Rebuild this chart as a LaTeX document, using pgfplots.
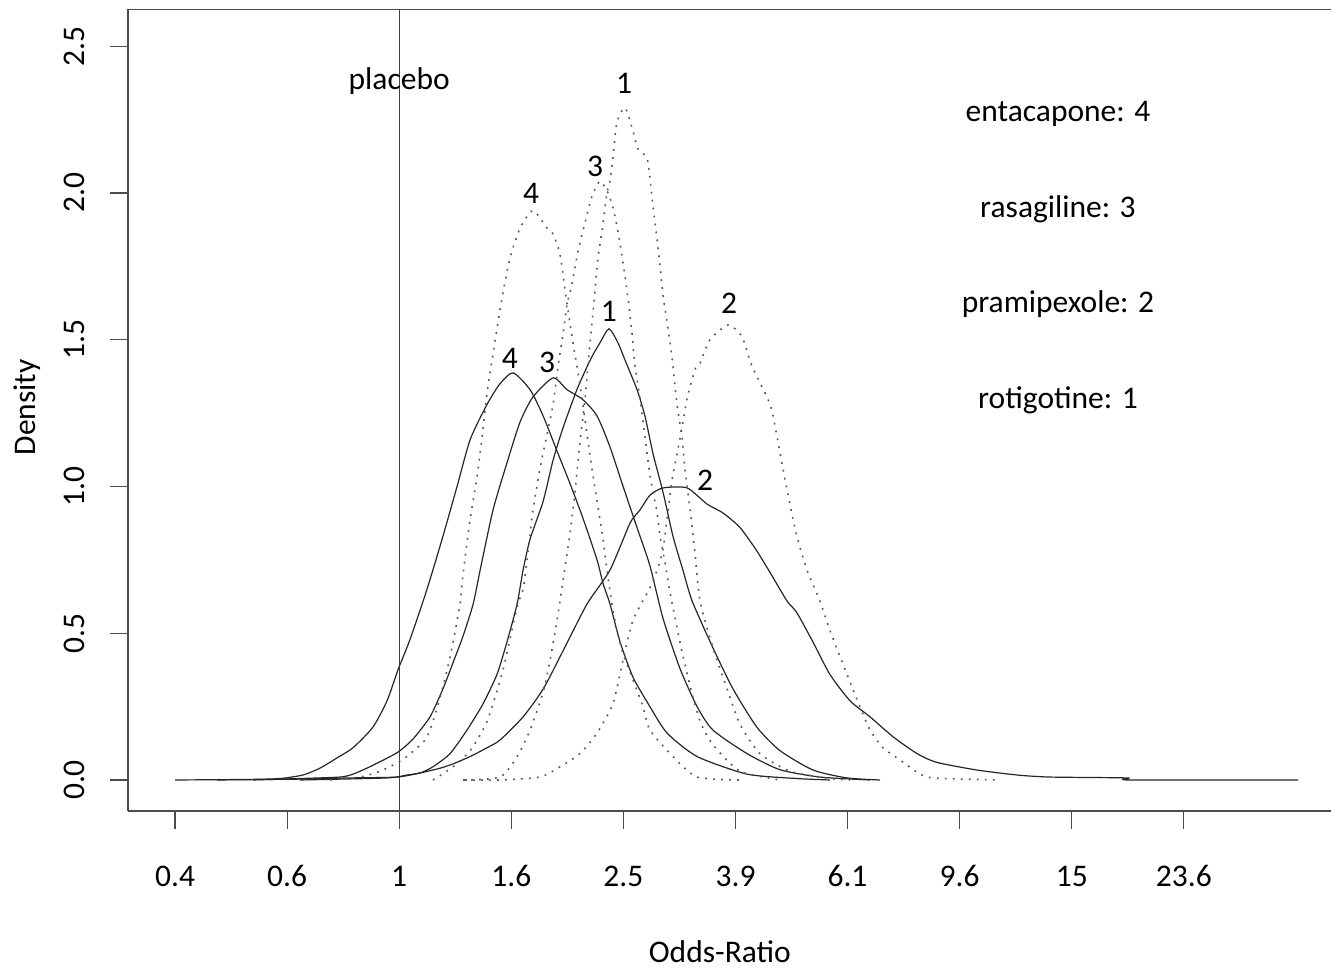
\documentclass[border=0pt]{standalone}
\usepackage{fontspec}
\setmainfont{Carlito}
\usepackage{pgfplots}
\pgfplotsset{compat=1.18}
\newcommand\rfont{\fontsize{31.5}{38}\selectfont}

% x = ln(odds ratio), y = posterior density
\pgfplotstableread{
x y
-0.903 0.000
-0.601 0.002
-0.480 0.005
-0.388 0.017
-0.320 0.040
-0.251 0.075
-0.186 0.110
-0.106 0.180
-0.049 0.270
-0.005 0.375
0.044 0.480
0.112 0.650
0.176 0.830
0.233 1.000
0.286 1.160
0.354 1.280
0.406 1.350
0.459 1.387
0.527 1.330
0.580 1.240
0.636 1.120
0.688 1.010
0.741 0.890
0.797 0.750
0.821 0.670
0.849 0.600
0.890 0.470
0.942 0.350
1.010 0.250
1.079 0.160
1.200 0.080
1.401 0.020
1.602 0.005
1.735 0.000
}\entsolid
\pgfplotstableread{
x y
-0.590 0.000
-0.400 0.005
-0.239 0.010
-0.186 0.020
-0.106 0.050
-0.005 0.095
0.056 0.140
0.124 0.215
0.176 0.310
0.217 0.400
0.257 0.490
0.298 0.600
0.326 0.715
0.378 0.920
0.434 1.080
0.487 1.220
0.539 1.305
0.620 1.370
0.676 1.330
0.741 1.295
0.797 1.240
0.849 1.135
0.902 1.000
0.958 0.860
1.010 0.730
1.063 0.550
1.131 0.380
1.200 0.250
1.264 0.170
1.401 0.090
1.534 0.035
1.695 0.010
1.897 0.000
}\rassolid
\pgfplotstableread{
x y
-0.734 0.000
-0.400 0.003
-0.198 0.007
-0.009 0.010
0.084 0.024
0.164 0.040
0.217 0.055
0.286 0.080
0.354 0.110
0.406 0.136
0.499 0.215
0.580 0.310
0.660 0.440
0.757 0.600
0.849 0.715
0.930 0.875
0.970 0.920
1.010 0.970
1.063 0.995
1.160 0.995
1.240 0.940
1.304 0.910
1.373 0.860
1.441 0.780
1.506 0.690
1.562 0.610
1.602 0.570
1.667 0.470
1.735 0.360
1.816 0.270
1.897 0.215
1.990 0.147
2.086 0.090
2.166 0.060
2.327 0.034
2.489 0.017
2.622 0.010
2.932 0.007
2.944 0.000
3.621 0.000
}\pramsolid
\pgfplotstableread{
x y
-0.400 0.000
-0.049 0.007
0.031 0.017
0.084 0.024
0.136 0.045
0.205 0.090
0.273 0.170
0.338 0.260
0.394 0.360
0.434 0.470
0.475 0.600
0.499 0.715
0.527 0.820
0.580 0.950
0.620 1.090
0.660 1.200
0.716 1.330
0.769 1.430
0.809 1.490
0.845 1.537
0.881 1.490
0.910 1.430
0.958 1.330
0.990 1.240
1.023 1.110
1.063 0.980
1.103 0.830
1.143 0.715
1.180 0.610
1.264 0.450
1.345 0.310
1.441 0.180
1.534 0.100
1.667 0.034
1.804 0.007
1.937 0.000
}\rotsolid
\pgfplotstableread{
x y
-0.279 0.000
-0.239 0.005
-0.158 0.010
-0.077 0.030
0.015 0.070
0.104 0.136
0.136 0.200
0.164 0.280
0.193 0.375
0.217 0.470
0.245 0.600
0.257 0.700
0.286 0.890
0.313 1.030
0.334 1.170
0.354 1.320
0.374 1.430
0.394 1.540
0.418 1.660
0.447 1.780
0.487 1.880
0.539 1.940
0.596 1.880
0.620 1.860
0.648 1.790
0.668 1.670
0.680 1.600
0.700 1.490
0.716 1.410
0.733 1.320
0.753 1.200
0.773 1.080
0.797 0.950
0.821 0.820
0.837 0.715
0.857 0.600
0.877 0.510
0.902 0.430
0.942 0.340
0.982 0.250
1.010 0.170
1.103 0.080
1.200 0.010
1.373 0.000
}\entdot
\pgfplotstableread{
x y
0.136 0.000
0.217 0.045
0.286 0.100
0.354 0.200
0.418 0.375
0.475 0.590
0.499 0.650
0.515 0.750
0.539 0.920
0.567 1.060
0.596 1.180
0.620 1.280
0.640 1.410
0.660 1.520
0.676 1.620
0.696 1.690
0.720 1.800
0.749 1.900
0.777 1.990
0.809 2.040
0.841 2.000
0.861 1.950
0.881 1.870
0.902 1.760
0.922 1.640
0.938 1.520
0.950 1.410
0.970 1.300
0.990 1.170
1.010 1.040
1.039 0.910
1.051 0.830
1.071 0.740
1.091 0.640
1.131 0.470
1.172 0.320
1.212 0.200
1.264 0.120
1.373 0.030
1.534 0.000
}\rasdot
\pgfplotstableread{
x y
0.265 0.000
0.406 0.000
0.567 0.010
0.648 0.045
0.728 0.090
0.797 0.160
0.861 0.260
0.902 0.410
0.942 0.545
1.016 0.665
1.059 0.770
1.079 0.890
1.099 1.020
1.119 1.110
1.139 1.200
1.160 1.300
1.192 1.400
1.212 1.420
1.252 1.500
1.325 1.550
1.381 1.510
1.421 1.410
1.494 1.280
1.522 1.170
1.546 1.060
1.574 0.940
1.602 0.830
1.643 0.715
1.695 0.610
1.735 0.510
1.804 0.360
1.856 0.250
1.897 0.170
1.949 0.110
2.018 0.068
2.086 0.027
2.150 0.007
2.420 0.000
}\pramdot
\pgfplotstableread{
x y
0.257 0.000
0.406 0.010
0.475 0.080
0.527 0.170
0.580 0.300
0.608 0.410
0.636 0.545
0.660 0.680
0.688 0.840
0.708 0.980
0.728 1.150
0.749 1.300
0.761 1.420
0.777 1.560
0.789 1.670
0.801 1.780
0.817 1.870
0.837 2.000
0.849 2.040
0.861 2.120
0.877 2.240
0.910 2.290
0.942 2.210
0.962 2.150
0.998 2.120
1.010 2.050
1.023 1.950
1.039 1.840
1.051 1.750
1.063 1.650
1.079 1.560
1.099 1.440
1.119 1.280
1.139 1.170
1.151 1.060
1.172 0.920
1.192 0.770
1.212 0.610
1.264 0.450
1.321 0.310
1.373 0.190
1.453 0.090
1.574 0.030
1.735 0.005
1.816 0.000
}\rotdot

\begin{document}
\rfont
\begin{tikzpicture}
\begin{axis}[
    scale only axis, width=1203pt, height=801.5pt,
    xmin=-1.0927, xmax=3.754, ymin=-0.1056, ymax=2.625,
    axis x line=box, axis y line=left,
    axis line style={-, black!70, line width=1.2pt},
    xtick={-0.903,-0.4516,0,0.4516,0.903,1.355,1.806,2.258,2.710,3.161},
    xticklabels={0.4,0.6,1,1.6,2.5,3.9,6.1,9.6,15,23.6},
    ytick={0,0.5,1,1.5,2,2.5},
    yticklabels={0.0,0.5,1.0,1.5,2.0,2.5},
    xtick pos=bottom, ytick pos=left,
    tick align=outside, major tick length=18pt,
    tick style={black!70, line width=1.2pt},
    tick label style={font=\rfont},
    xticklabel style={anchor=base, inner sep=0pt, yshift=-58pt},
    yticklabel style={rotate=90, anchor=base, inner sep=0pt, yshift=25pt},
    xlabel={Odds-Ratio}, ylabel={Density},
    every axis x label/.style={at={(rel axis cs:0.492,0)}, anchor=base, inner sep=0pt, yshift=-152pt, font=\rfont},
    every axis y label/.style={at={(rel axis cs:0,0.5)}, rotate=90, anchor=base, inner sep=0pt, yshift=92pt, xshift=3pt, font=\rfont},
    solidc/.style={black!85, line width=1.2pt, smooth, tension=0.4},
    dotc/.style={black!65, line width=1.6pt, dash pattern=on 1.8pt off 6.2pt, smooth, tension=0.4},
]
\coordinate (ll) at (rel axis cs:0,0);
\coordinate (ur) at (rel axis cs:1,1);

\draw[black!75, line width=1.2pt] (axis cs:0,-0.1056) -- (axis cs:0,2.625);

\addplot[solidc] table {\entsolid};
\addplot[solidc] table {\rassolid};
\addplot[solidc] table {\pramsolid};
\addplot[solidc] table {\rotsolid};
\addplot[dotc] table {\entdot};
\addplot[dotc] table {\rasdot};
\addplot[dotc] table {\pramdot};
\addplot[dotc] table {\rotdot};

% curve labels
\node at (axis cs:0.446,1.438) {4};
\node at (axis cs:0.596,1.424) {3};
\node at (axis cs:0.845,1.595) {1};
\node at (axis cs:1.232,1.022) {2};
\node at (axis cs:0.531,2.000) {4};
\node at (axis cs:0.789,2.089) {3};
\node at (axis cs:0.906,2.375) {1};
\node at (axis cs:1.329,1.625) {2};

\node[anchor=base] at (axis cs:0,2.354) {placebo};
\node[anchor=base] at (axis cs:2.654,2.242) {entacapone: 4};
\node[anchor=base] at (axis cs:2.654,1.915) {rasagiline: 3};
\node[anchor=base] at (axis cs:2.654,1.591) {pramipexole: 2};
\node[anchor=base] at (axis cs:2.654,1.264) {rotigotine: 1};
\end{axis}
\pgfresetboundingbox
\path ([xshift=-128pt,yshift=-160pt]ll) rectangle ([yshift=9.5pt]ur);
\end{tikzpicture}
\end{document}
